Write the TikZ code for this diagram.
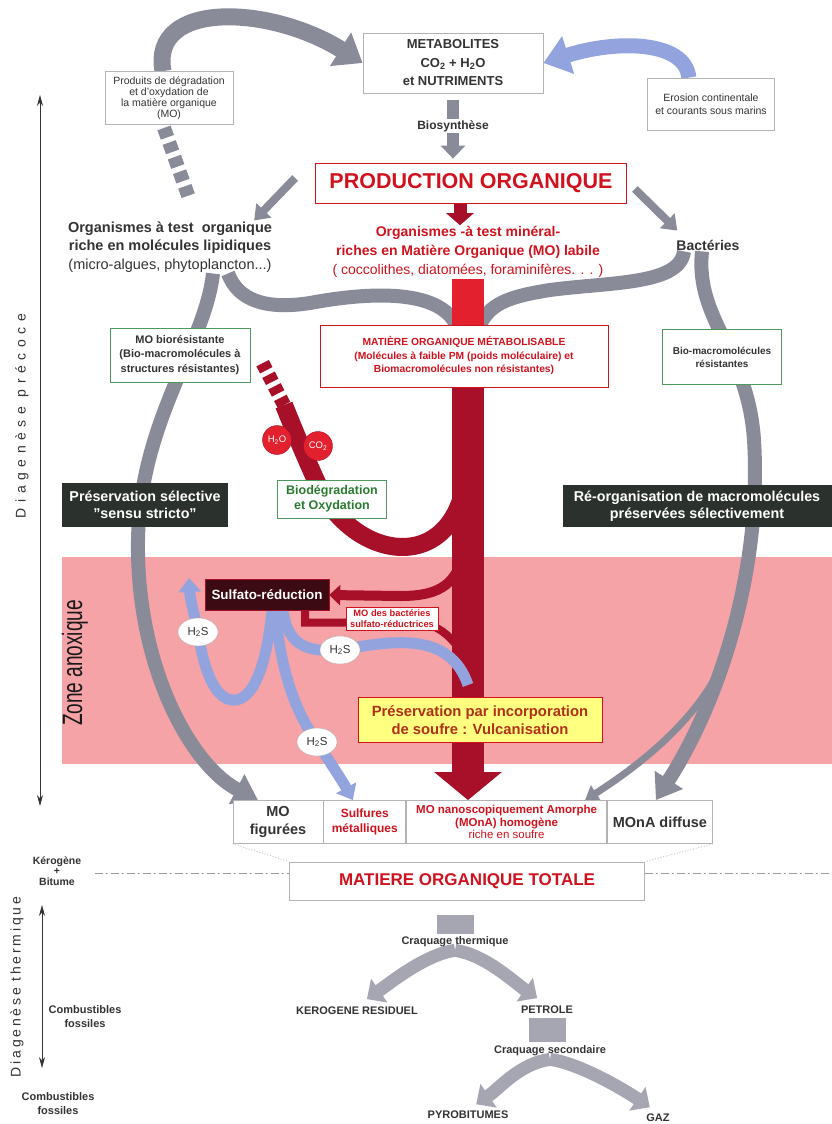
\documentclass[tikz,border=0pt]{standalone}
\usepackage{fontspec}
\setmainfont{Liberation Sans}
\usepackage{xcolor}
\usepackage{tikz}
\usetikzlibrary{arrows.meta, shapes.geometric, positioning}

\pgfdeclarelayer{zone}
\pgfdeclarelayer{bands}
\pgfsetlayers{zone,bands,main}

\newfontfamily\preFont[LetterSpace=40]{Liberation Sans}
\newfontfamily\thermFont[LetterSpace=20]{Liberation Sans}
\newcommand{\fsz}[2]{\fontsize{#1}{#2}\selectfont}

\definecolor{inkGray}{HTML}{333335}
\definecolor{bandGray}{HTML}{8A8B99}
\definecolor{lightBand}{HTML}{A6A6B3}
\definecolor{bandBlue}{HTML}{93A3DE}
\definecolor{prodRed}{HTML}{D0121E}
\definecolor{columnRed}{HTML}{E3212E}
\definecolor{darkRed}{HTML}{A80F28}
\definecolor{boxGreen}{HTML}{4E9A5E}
\definecolor{textGreen}{HTML}{2A7B30}
\definecolor{darkBox}{HTML}{2B322D}
\definecolor{sulfBox}{HTML}{3B0A12}
\definecolor{anoxPink}{HTML}{F5A3A6}
\definecolor{vulcYellow}{HTML}{FFFF80}
\definecolor{vulcText}{HTML}{B0301A}
\definecolor{frameGray}{HTML}{B3B3B3}

\begin{document}
\begin{tikzpicture}[
        x=1pt, y=-1pt,
        box/.style={rectangle, draw=frameGray, fill=white, line width=0.8pt, align=center, inner sep=1pt, text=inkGray},
        greenbox/.style={box, draw=boxGreen},
        redbox/.style={box, draw=prodRed, text=prodRed},
        darkbox/.style={rectangle, fill=darkBox, text=white, align=center, font=\fsz{14.3}{16.5}\bfseries},
        cell/.style={box, minimum height=43pt},
        plainText/.style={align=center, text=inkGray, inner sep=1pt},
        h2s/.style={ellipse, draw=frameGray, fill=white, minimum width=40pt, minimum height=28pt, inner sep=0pt, text=inkGray, font=\fsz{11.5}{12}},
        bubble/.style={circle, fill=columnRed, draw=darkRed, minimum size=29pt, inner sep=0pt, text=white, font=\fsz{9.5}{10}},
        grayArrow/.style={draw=bandGray, line width=8pt, -{Triangle[length=14pt, width=20pt]}},
        band/.style={draw=bandGray, line width=14pt},
        bandArrow/.style={band, -{Triangle[length=24pt, width=32pt]}},
        blueBand/.style={draw=bandBlue, line width=11pt},
        redBand/.style={draw=darkRed, line width=18pt},
        stemBlock/.style={draw=lightBand, line width=37pt},
        branchArrow/.style={draw=lightBand, line width=13pt, -{Triangle[length=15pt, width=28pt]}},
        axisLine/.style={draw=black!80, line width=0.7pt, {Stealth[length=11pt, width=6pt]}-{Stealth[length=11pt, width=6pt]}},
        dashDot/.style={draw=black!40, line width=1pt, dash pattern=on 8pt off 3pt on 2pt off 3pt}
    ]
    \useasboundingbox (0,0) rectangle (832,1124);

    % Nodes
    \node[box, minimum width=180pt, minimum height=60pt, font=\fsz{13}{18.5}\bfseries] (metab) at (453,63) {METABOLITES\\CO\textsubscript{2} + H\textsubscript{2}O\\et NUTRIMENTS};
    \node[box, minimum width=128pt, minimum height=53pt, font=\fsz{10.5}{11}] (produits) at (169,98) {Produits de dégradation\\et d'oxydation de\\la matière organique\\(MO)};
    \node[box, minimum width=127pt, minimum height=52pt, font=\fsz{10.5}{13}] (erosion) at (711,104) {Erosion continentale\\et courants sous marins};
    \node[redbox, minimum width=311pt, minimum height=40pt, font=\fsz{21.5}{24}\bfseries] (prod) at (471,183) {PRODUCTION ORGANIQUE};
    \node[plainText, text=prodRed, font=\fsz{14}{19}\bfseries] (orgMin) at (468,252) {Organismes -à test minéral-\\riches en Matière Organique (MO) labile\\{\mdseries ( coccolithes, diatomées, foraminifères. . . )}};
    \node[plainText, font=\fsz{14.5}{18.5}\bfseries] (orgOrg) at (170,247) {Organismes à test\ \ organique\\riche en molécules lipidiques\\{\mdseries (micro-algues, phytoplancton...)}};
    \node[plainText, font=\fsz{14}{15}\bfseries] (bact) at (708,245) {Bactéries};

    \node[greenbox, minimum width=140pt, minimum height=54pt, font=\fsz{11}{14.3}\bfseries] (bioRes) at (180,355) {MO biorésistante\\(Bio-macromolécules à\\structures résistantes)};
    \node[redbox, minimum width=288pt, minimum height=62pt, font=\fsz{10.3}{13.5}\bfseries] (metabol) at (464,356) {MATIÈRE ORGANIQUE MÉTABOLISABLE\\(Molécules à faible PM (poids moléculaire) et\\Biomacromolécules non résistantes)};
    \node[greenbox, minimum width=119pt, minimum height=55pt, font=\fsz{10}{13}\bfseries] (bioMac) at (722,357) {Bio-macromolécules\\résistantes};
    \node[greenbox, minimum width=109pt, minimum height=38pt, text=textGreen, font=\fsz{12.5}{15}\bfseries] (biodeg) at (332,499) {Biodégradation\\et Oxydation};
    \node[bubble] (h2o) at (277,440) {H\textsubscript{2}O};
    \node[bubble] (co2) at (318,446) {CO\textsubscript{2}};
    \node[darkbox, minimum width=166pt, minimum height=44pt] (presSel) at (145,505) {Préservation sélective\\\symbol{34}sensu stricto\symbol{34}};
    \node[darkbox, minimum width=269pt, minimum height=42pt] (reorg) at (697,506) {Ré-organisation de macromolécules\\préservées sélectivement};

    \node[rectangle, fill=sulfBox, draw=darkRed, text=white, font=\fsz{13.4}{15}\bfseries, minimum width=124pt, minimum height=31pt] (sulfato) at (267,595) {Sulfato-réduction};
    \node[redbox, line width=0.6pt, minimum width=92pt, minimum height=23pt, inner sep=0.5pt, font=\fsz{9.3}{11}\bfseries] (moBact) at (392,619) {MO des bactéries\\sulfato-réductrices};
    \node[h2s] (h2sLeft) at (198,632) {H\textsubscript{2}S};
    \node[h2s] (h2sRight) at (340,650) {H\textsubscript{2}S};
    \node[h2s] (h2sLow) at (317,742) {H\textsubscript{2}S};
    \node[rectangle, draw=prodRed, line width=1pt, fill=vulcYellow, text=vulcText, align=center, font=\fsz{14.8}{18.5}\bfseries, minimum width=244pt, minimum height=45pt] (vulc) at (480,720) {Préservation par incorporation\\de soufre : Vulcanisation};

    \node[cell, minimum width=90pt, font=\fsz{14.5}{18}\bfseries] (moFig) at (278,822) {MO\\figurées};
    \node[cell, minimum width=82pt, text=prodRed, font=\fsz{12}{15}\bfseries, right=0pt of moFig] (sulfures) {Sulfures\\métalliques};
    \node[cell, minimum width=200pt, text=prodRed, font=\fsz{11.5}{12.5}\bfseries, right=0pt of sulfures] (moNano) {MO nanoscopiquement Amorphe\\(MOnA) homogène\\{\mdseries riche en soufre}};
    \node[cell, minimum width=105pt, font=\fsz{14.5}{16}\bfseries, right=0pt of moNano] (monaDiff) {MOnA diffuse};
    \node[box, minimum width=355pt, minimum height=38pt, text=prodRed, font=\fsz{17}{19}\bfseries] (totale) at (467,881) {MATIERE ORGANIQUE TOTALE};

    \node[plainText, font=\fsz{11}{13}\bfseries] (craqTh) at (455,942) {Craquage thermique};
    \node[plainText, font=\fsz{11}{13}\bfseries] (keroRes) at (357,1011) {KEROGENE RESIDUEL};
    \node[plainText, font=\fsz{11}{13}\bfseries] (petrole) at (547,1010) {PETROLE};
    \node[plainText, font=\fsz{11}{13}\bfseries] (craqSec) at (550,1051) {Craquage secondaire};
    \node[plainText, font=\fsz{11}{13}\bfseries] (pyro) at (468,1115) {PYROBITUMES};
    \node[plainText, font=\fsz{11}{13}\bfseries] (gaz) at (658,1118) {GAZ};

    % Side labels
    \node[plainText, font=\fsz{10.5}{10.3}\bfseries] (kerBit) at (57,871) {Kérogène\\+\\Bitume};
    \node[plainText, font=\fsz{11}{14}\bfseries] (combA) at (85,1017) {Combustibles\\fossiles};
    \node[plainText, font=\fsz{11}{14}\bfseries] (combB) at (58,1104) {Combustibles\\fossiles};
    \node[plainText, rotate=90, font=\preFont\fsz{14}{16}] (diagPre) at (22,416) {Diagenèse précoce};
    \node[plainText, rotate=90, font=\thermFont\fsz{14}{16}] (diagTh) at (17,987) {Diagenèse thermique};
    \node[plainText, rotate=90, text=black!90, font=\fsz{28}{30}] (zoneAnox) at (75,663) {\scalebox{0.68}[1]{Zone anoxique}};

    % Free ends
    \coordinate (prodDashEnd) at (189,198);
    \coordinate (bioJoin) at (468,455);
    \coordinate (bioTail) at (284,405);
    \coordinate (bioEnd) at (261,360);
    \coordinate (sulfJoin) at (466,535);
    \coordinate (mobJoin) at (468,668);
    \coordinate (h2sTip) at (189,578);
    \coordinate (h2sEnd) at (468,685);
    \coordinate (diffSplit) at (728,650);
    \coordinate (kerLineL) at (95,873);
    \coordinate (kerLineR) at (832,873);
    \coordinate (precTop) at (40,95);
    \coordinate (precBot) at (40,806);
    \coordinate (thermTop) at (42,905);
    \coordinate (thermBot) at (42,1068);

    % Zone anoxique
    \begin{pgfonlayer}{zone}
        \fill[anoxPink] (62,557) rectangle (832,764);
    \end{pgfonlayer}

    % Arrows
    \begin{pgfonlayer}{bands}
        \draw[draw=bandGray, line width=17pt, -{Triangle[length=26pt, width=38pt]}] ([xshift=-6pt]produits.north) .. controls (150,0) and (270,5) .. (metab.west);
        \draw[draw=bandBlue, line width=15pt, -{Triangle[length=26pt, width=38pt]}] (erosion.130) .. controls (685,40) and (615,40) .. (metab.east);
        \draw[draw=bandGray, line width=14pt, dash pattern=on 10pt off 5.5pt] ([xshift=-5pt, yshift=-3pt]produits.south) -- (prodDashEnd);
        \draw[draw=bandGray, line width=12pt, -{Triangle[length=13pt, width=24pt]}, shorten <=7pt, shorten >=4pt] (metab.south) -- (metab.south |- prod.north);
        \draw[grayArrow] ([xshift=-20pt, yshift=5pt]prod.west) -- ([xshift=-19pt]orgOrg.north east);
        \draw[grayArrow] ([xshift=8pt, yshift=-6pt]prod.east) -- ([xshift=2pt, yshift=8pt]bact.north west);
        \draw[draw=darkRed, line width=13pt, -{Triangle[length=12pt, width=27pt]}] ([xshift=-11pt]prod.south) -- ([xshift=-11pt]prod.south |- orgMin.north);

        % gray bands
        \draw[band] ([xshift=58pt]orgOrg.south) .. controls (238,300) and (265,310) .. (310,303) .. controls (380,290) and (440,292) .. ([xshift=-8pt]metabol.north);
        \draw[band] ([xshift=-24pt]bact.south) .. controls (680,285) and (610,282) .. (550,290) .. controls (505,297) and (490,305) .. ([xshift=16pt]metabol.north);
        \draw[bandArrow] ([xshift=43pt]orgOrg.south) .. controls (205,345) and (140,420) .. (138,540) .. controls (136,665) and (190,765) .. ([xshift=-20pt]moFig.north);
        \draw[bandArrow] ([xshift=-6pt]bact.south) .. controls (695,320) and (748,350) .. (754,440) .. controls (762,570) and (720,700) .. ([xshift=-4pt]monaDiff.north);
        \draw[draw=bandGray, line width=7pt, -{Triangle[length=13pt, width=18pt]}] (diffSplit) .. controls (705,715) and (640,765) .. ([xshift=-22pt]moNano.north east);

        % red bands
        \draw[redBand] (bioJoin) .. controls (466,580) and (355,565) .. (318,485) .. controls (303,452) and (292,425) .. (bioTail);
        \draw[redBand, line width=14pt, dash pattern=on 8pt off 5pt] (bioTail) -- (bioEnd);
        \draw[draw=darkRed, line width=10pt, -{Triangle[length=11pt, width=20pt]}] (sulfJoin) .. controls (462,585) and (440,596) .. (400,596) -- (sulfato.east);
        \draw[draw=darkRed, line width=8pt] ([xshift=38pt]sulfato.south) -- ++(0,12) -- ++(112,0) .. controls +(25,0) and +(-5,-20) .. (mobJoin);
        \draw[draw=columnRed, line width=32pt] (orgMin.south) -- (orgMin.south |- metabol.north);
        \draw[draw=darkRed, line width=32pt, -{Triangle[length=28pt, width=66pt]}] (orgMin.south |- metabol.south) -- (orgMin.south |- moNano.north);

        % blue bands
        \draw[blueBand, -{Triangle[length=14pt, width=22pt]}] ([xshift=5pt]sulfato.south) .. controls (265,680) and (248,702) .. (232,700) .. controls (213,698) and (203,665) .. (h2sLeft.center) .. controls (194,612) and (190,600) .. (h2sTip);
        \draw[blueBand, -{Triangle[length=14pt, width=22pt]}] ([xshift=8pt]sulfato.south) .. controls (282,680) and (298,715) .. (h2sLow.center) .. controls (333,767) and (343,782) .. ([xshift=-12pt]sulfures.north);
        \draw[blueBand] ([xshift=16pt]sulfato.south) .. controls (288,648) and (310,652) .. (h2sRight.center) .. controls (395,640) and (450,632) .. (h2sEnd);

        % thermal cracking
        \draw[stemBlock, shorten <=15pt, shorten >=2pt] (craqTh.north |- totale.south) -- (craqTh.north);
        \draw[branchArrow, shorten >=12pt] ([yshift=-2pt]craqTh.south) .. controls +(-30,4) and +(32,-22) .. (keroRes.north);
        \draw[branchArrow, shorten >=12pt] ([yshift=-2pt]craqTh.south) .. controls +(30,4) and +(-32,-22) .. (petrole.north);
        \draw[stemBlock, shorten <=3pt, shorten >=3pt] (petrole.south) -- (petrole.south |- craqSec.north);
        \draw[branchArrow, shorten >=10pt] ([yshift=-2pt]craqSec.south) .. controls +(-30,4) and +(32,-22) .. (pyro.north);
        \draw[branchArrow, shorten >=10pt] ([yshift=-2pt]craqSec.south) .. controls +(30,4) and +(-32,-22) .. (gaz.north);
    \end{pgfonlayer}

    \node[plainText, fill=white, font=\fsz{12}{14}\bfseries] (bioSyn) at (453,126) {Biosynthèse};

    % Frames and axes
    \draw[frameGray, dotted, line width=0.8pt] (moFig.south west) -- (totale.north west);
    \draw[frameGray, dotted, line width=0.8pt] (monaDiff.south east) -- (totale.north east);
    \draw[dashDot] (kerLineL) -- (totale.west |- kerLineL);
    \draw[dashDot] (totale.east |- kerLineR) -- (kerLineR);
    \draw[axisLine] (precTop) -- (precBot);
    \draw[axisLine] (thermTop) -- (thermBot);
\end{tikzpicture}
\end{document}
